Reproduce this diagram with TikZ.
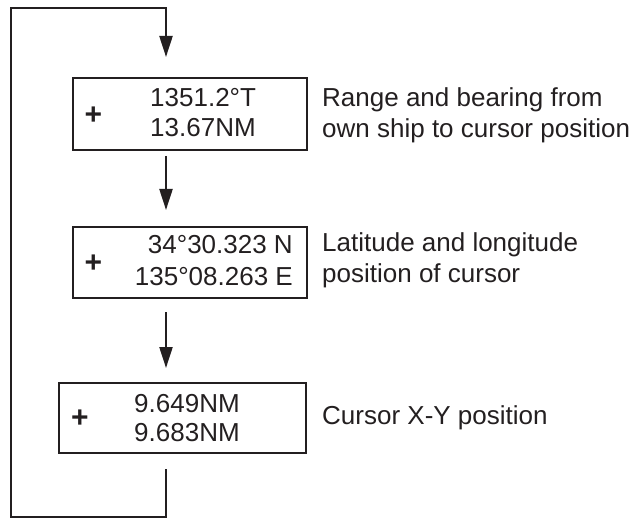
\documentclass[tikz,border=0pt]{standalone}
\usepackage{fontspec}
\setmainfont{Liberation Sans}
\usetikzlibrary{arrows.meta}
\definecolor{ink}{HTML}{231F20}
\begin{document}
\begin{tikzpicture}[x=1bp,y=-1bp,
  every node/.style={font=\fontsize{26bp}{31bp}\selectfont, text=ink, inner sep=0pt},
  dispbox/.style={draw=ink, line width=2.6bp, rectangle, inner sep=0pt},
  plussign/.style={font=\fontsize{30bp}{31bp}\selectfont\bfseries},
  conn/.style={draw=ink, line width=2.2bp},
  arr/.style={conn, -{Triangle[length=21bp,width=13bp]}},
  desc/.style={anchor=west, align=left}]
\useasboundingbox (0,0) rectangle (636,518);
% boxes
\node[dispbox, minimum width=234bp, minimum height=72bp] (b1) at (190,114) {};
\node[dispbox, minimum width=234bp, minimum height=71bp] (b2) at (190,262.5) {};
\node[dispbox, minimum width=247bp, minimum height=70bp] (b3) at (182.5,418) {};
% box 1 texts
\node[plussign] (p1) at (93.5,116) {+};
\node[anchor=base west] (t11) at (150,107) {1351.2°T};
\node[anchor=base west] (t12) at (150,137) {13.67NM};
% box 2 texts
\node[plussign] (p2) at (93.5,264) {+};
\node[anchor=base east] (t21) at (293,254) {34°30.323 N};
\node[anchor=base east] (t22) at (293,285) {135°08.263 E};
% box 3 texts
\node[plussign] (p3) at (80,419) {+};
\node[anchor=base west] (t31) at (134,412) {9.649NM};
\node[anchor=base west] (t32) at (134,441) {9.683NM};
% descriptions
\node[desc] (d1) at (322,115) {Range and bearing from\\own ship to cursor position};
\node[desc] (d2) at (322,260) {Latitude and longitude\\position of cursor};
\node[desc] (d3) at (322,418) {Cursor X-Y position};
% connector coordinates
\coordinate (loopstart) at (166,469);
\coordinate (loopbottom) at (166,517.5);
\coordinate (loopleft) at (11,8);
\coordinate (tip1) at (166,57);
\coordinate (a2s) at (166,156);
\coordinate (tip2) at (166,210);
\coordinate (a3s) at (166,312);
\coordinate (tip3) at (166,368);
% connectors
\draw[arr] (loopstart) -- (loopbottom) -| (loopleft) -| (tip1);
\draw[arr] (a2s) -- (tip2);
\draw[arr] (a3s) -- (tip3);
\end{tikzpicture}
\end{document}
